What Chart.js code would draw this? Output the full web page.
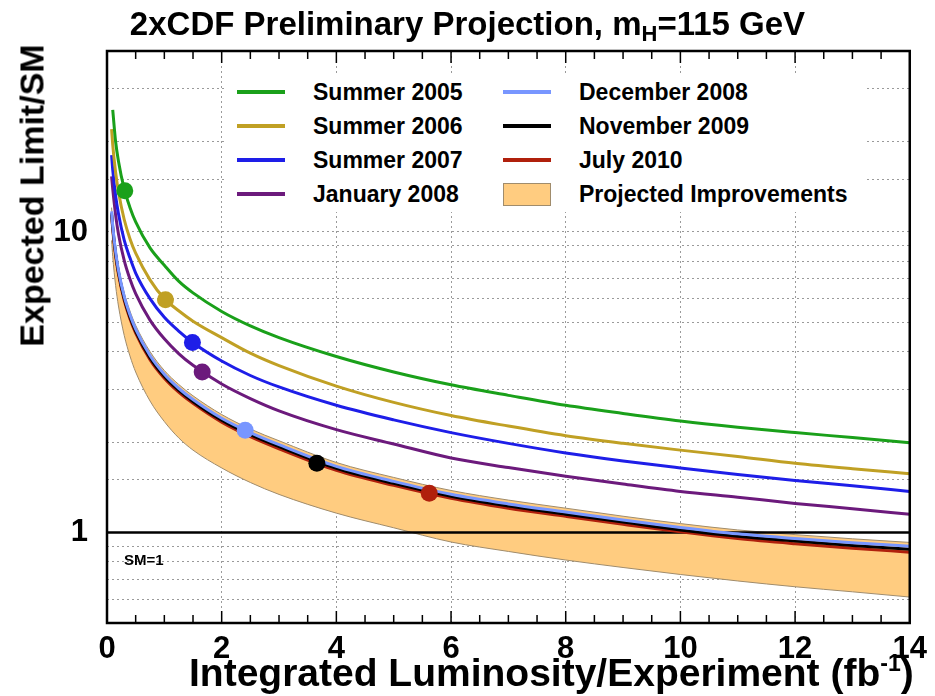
<!DOCTYPE html>
<html>
<head>
<meta charset="utf-8">
<script src="https://cdn.jsdelivr.net/npm/chart.js@4.4.0/dist/chart.umd.min.js"></script>
<style>
    html, body { margin: 0; padding: 0; background: #fff; }
    #wrap { position: relative; width: 935px; height: 696px; font-family: "Liberation Sans", Arial, Helvetica, sans-serif; font-weight: bold; color: #000; }
    #chart { position: absolute; left: 0; top: 0; }
    .title { position: absolute; left: 0; top: 5px; width: 935px; text-align: center; font-size: 33px; white-space: nowrap; }
    .title sub { font-size: 22px; vertical-align: -6px; line-height: 0; }
    .xtitle { position: absolute; left: 189px; top: 651px; font-size: 39px; white-space: nowrap; }
    .xtitle sup { font-size: 23px; vertical-align: 15px; line-height: 0; }
    .ytitle { position: absolute; left: -168px; top: 176px; width: 400px; text-align: center; font-size: 34px; transform: rotate(-90deg); white-space: nowrap; }
    .legend { position: absolute; left: 224px; top: 75px; width: 642px; height: 137px; background: #fff; }
    .entry { position: absolute; height: 34px; font-size: 23px; line-height: 34px; white-space: nowrap; }
    .swatch { position: absolute; left: 0; top: 15px; width: 48px; height: 4px; }
    .box { position: absolute; left: 0; top: 6px; width: 46px; height: 21px; background: #ffcc80; border: 1px solid #a08c6c; }
    .entry span { position: absolute; left: 76px; top: 0; }
    .smlabel { position: absolute; left: 124px; top: 551px; font-size: 15px; }
</style>
</head>
<body>
<div id="wrap">
    <canvas id="chart" width="935" height="696"></canvas>
    <div class="title">2xCDF Preliminary Projection, m<sub>H</sub>=115 GeV</div>
    <div class="ytitle">Expected Limit/SM</div>
    <div class="xtitle">Integrated Luminosity/Experiment (fb<sup>-1</sup>)</div>
    <div class="legend" id="legend"></div>
    <div class="smlabel">SM=1</div>
</div>
<script>
// integrated luminosity per experiment (fb^-1)
const lumi = [0.08, 0.1, 0.15, 0.2, 0.3, 0.4, 0.5, 0.75, 1, 1.25, 1.5, 2, 2.5, 3, 4, 5, 6, 7, 8, 9, 10, 11, 12, 13, 14];

// expected limit / SM for each projection
const summer2005   = [null, 25.5, 20.0, 17.2, 13.9, 12.07, 10.8, 8.85, 7.75, 6.86, 6.27, 5.44, 4.87, 4.45, 3.85, 3.42, 3.1, 2.86, 2.65, 2.49, 2.35, 2.24, 2.15, 2.07, 1.99];
const summer2006   = [22.0, 19.5, 15.8, 13.6, 11.0, 9.5, 8.5, 6.93, 6.0, 5.47, 5.05, 4.45, 3.95, 3.59, 3.07, 2.71, 2.45, 2.26, 2.10, 1.98, 1.88, 1.79, 1.70, 1.63, 1.57];
const summer2007   = [18.0, 16.1, 13.2, 11.5, 9.4, 8.2, 7.3, 6.0, 5.2, 4.68, 4.28, 3.72, 3.33, 3.05, 2.65, 2.37, 2.15, 1.98, 1.84, 1.73, 1.64, 1.56, 1.49, 1.43, 1.37];
const january2008  = [15.3, 13.9, 11.4, 9.85, 8.04, 6.97, 6.23, 5.09, 4.41, 3.94, 3.6, 3.12, 2.79, 2.54, 2.2, 1.97, 1.77, 1.645, 1.54, 1.45, 1.37, 1.31, 1.25, 1.20, 1.15];
const december2008 = [11.7, 10.5, 8.6, 7.45, 6.1, 5.3, 4.75, 3.88, 3.36, 3.02, 2.77, 2.40, 2.15, 1.96, 1.66, 1.48, 1.34, 1.245, 1.17, 1.10, 1.04, 0.99, 0.955, 0.925, 0.90];
const november2009 = [11.55, 10.35, 8.47, 7.34, 6.01, 5.22, 4.68, 3.82, 3.31, 2.975, 2.73, 2.365, 2.115, 1.93, 1.635, 1.457, 1.32, 1.225, 1.15, 1.083, 1.02, 0.972, 0.937, 0.906, 0.88];
const july2010     = [11.4, 10.2, 8.35, 7.23, 5.92, 5.14, 4.61, 3.76, 3.26, 2.93, 2.69, 2.33, 2.085, 1.9, 1.61, 1.435, 1.3, 1.205, 1.132, 1.065, 1.005, 0.955, 0.918, 0.887, 0.86];

// projected improvements band
const bandUpper = [12.05, 10.8, 8.86, 7.67, 6.28, 5.46, 4.89, 4.0, 3.46, 3.11, 2.85, 2.47, 2.21, 2.02, 1.71, 1.525, 1.38, 1.282, 1.205, 1.133, 1.071, 1.02, 0.984, 0.953, 0.927];
const bandLower = [9.37, 8.29, 6.63, 5.67, 4.53, 3.87, 3.42, 2.74, 2.34, 2.065, 1.88, 1.64, 1.467, 1.339, 1.16, 1.037, 0.93, 0.865, 0.81, 0.765, 0.725, 0.69, 0.66, 0.635, 0.61];

// luminosity reached at each projection (the dots)
const markerLumi  = [0.31, 1.02, 1.49, 1.66, 2.41, 3.66, 5.62];
const markerLimit = [13.7, 5.95, 4.29, 3.42, 2.19, 1.70, 1.35];

const seriesNames  = ['Summer 2005', 'Summer 2006', 'Summer 2007', 'January 2008', 'December 2008', 'November 2009', 'July 2010'];
const seriesColors = ['#1aa01a', '#c0a024', '#1e1ee8', '#6c1a7c', '#7896ff', '#000000', '#b0200c'];
const seriesValues = [summer2005, summer2006, summer2007, january2008, december2008, november2009, july2010];

const smLumi  = [0, 14];
const smLimit = [1, 1];

const xMinorTicks = [];
for (let v = 0; v <= 14; v += 0.5) xMinorTicks.push(v);

function toPoints(xs, ys) {
    const pts = [];
    xs.forEach((x, i) => { if (ys[i] !== null) pts.push({ x: x, y: ys[i] }); });
    return pts;
}

// legend (html so the labels stay as text)
const legend = document.getElementById('legend');
seriesNames.forEach((name, i) => {
    const col = i < 4 ? 0 : 1;
    const row = i < 4 ? i : i - 4;
    const el = document.createElement('div');
    el.className = 'entry';
    el.style.left = (col === 0 ? 13 : 279) + 'px';
    el.style.top = (row * 34) + 'px';
    el.innerHTML = `<div class="swatch" style="background:${seriesColors[i]}"></div><span>${name}</span>`;
    legend.appendChild(el);
});
const bandEntry = document.createElement('div');
bandEntry.className = 'entry';
bandEntry.style.left = '279px';
bandEntry.style.top = '102px';
bandEntry.innerHTML = '<div class="box"></div><span>Projected Improvements</span>';
legend.appendChild(bandEntry);

// frame with inward x ticks on top and bottom
const framePlugin = {
    id: 'frame',
    afterDraw(chart) {
        const { ctx, chartArea: a } = chart;
        const xs = chart.scales.x;
        ctx.save();
        ctx.strokeStyle = '#000';
        ctx.lineWidth = 1.5;
        xMinorTicks.forEach(v => {
            const px = xs.getPixelForValue(v);
            const len = (v % 2 === 0) ? 12 : 8;
            ctx.beginPath();
            ctx.moveTo(px, a.bottom); ctx.lineTo(px, a.bottom - len);
            ctx.moveTo(px, a.top); ctx.lineTo(px, a.top + len);
            ctx.stroke();
        });
        ctx.lineWidth = 2.5;
        ctx.strokeRect(a.left, a.top, a.right - a.left, a.bottom - a.top);
        ctx.restore();
    }
};

const datasets = [];
seriesValues.forEach((vals, i) => {
    datasets.push({
        label: seriesNames[i],
        data: toPoints(lumi, vals),
        borderColor: seriesColors[i],
        borderWidth: 3,
        pointRadius: 0,
        cubicInterpolationMode: 'monotone',
        fill: false,
        order: 1
    });
});
datasets.push({
    label: 'dots',
    type: 'scatter',
    data: toPoints(markerLumi, markerLimit),
    pointRadius: 8.5,
    pointBackgroundColor: seriesColors,
    pointBorderWidth: 0,
    order: 0
});
datasets.push({
    label: 'SM=1',
    data: toPoints(smLumi, smLimit),
    borderColor: '#000',
    borderWidth: 2.5,
    pointRadius: 0,
    fill: false,
    order: 2
});
const upperIndex = datasets.length;
datasets.push({
    label: 'bandUpper',
    data: toPoints(lumi, bandUpper),
    borderColor: '#a08c6c',
    borderWidth: 1,
    pointRadius: 0,
    cubicInterpolationMode: 'monotone',
    fill: false,
    order: 4
});
datasets.push({
    label: 'Projected Improvements',
    data: toPoints(lumi, bandLower),
    borderColor: '#a08c6c',
    borderWidth: 1,
    backgroundColor: '#ffcc80',
    pointRadius: 0,
    cubicInterpolationMode: 'monotone',
    fill: { target: upperIndex },
    order: 3
});

const tickFont = { family: '"Liberation Sans", Arial, sans-serif', size: 31, weight: 'bold' };

new Chart(document.getElementById('chart'), {
    type: 'line',
    data: { datasets: datasets },
    options: {
        responsive: false,
        animation: false,
        layout: { padding: { top: 51, right: 23, left: 0, bottom: 0 } },
        plugins: {
            legend: { display: false },
            tooltip: { enabled: false },
            filler: { drawTime: 'beforeDatasetsDraw' }
        },
        scales: {
            x: {
                type: 'linear',
                min: 0,
                max: 14,
                afterFit: (s) => { s.height = 73; },
                ticks: { stepSize: 2, font: tickFont, color: '#000', padding: 8, maxRotation: 0 },
                grid: { color: '#9a9a9a', lineWidth: 1, drawTicks: false },
                border: { display: false, dash: [2, 3] }
            },
            y: {
                type: 'logarithmic',
                min: 0.5,
                max: 40,
                afterFit: (s) => { s.width = 107; },
                ticks: {
                    autoSkip: false,
                    font: tickFont,
                    color: '#000',
                    padding: 19,
                    callback: (v) => (Math.abs(v - 1) < 1e-9 || Math.abs(v - 10) < 1e-9) ? String(Math.round(v)) : ''
                },
                grid: { color: '#9a9a9a', lineWidth: 1, drawTicks: false },
                border: { display: false, dash: [2, 3] }
            }
        }
    },
    plugins: [framePlugin]
});
</script>
</body>
</html>
